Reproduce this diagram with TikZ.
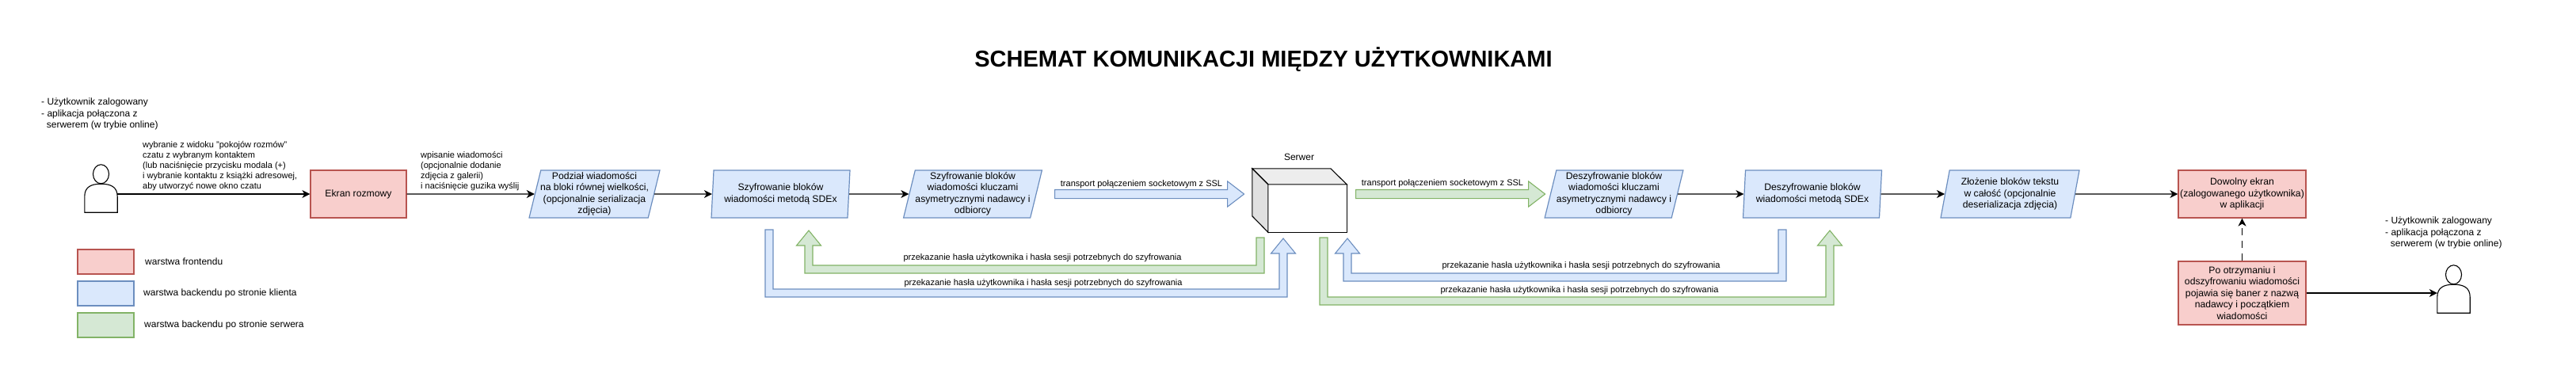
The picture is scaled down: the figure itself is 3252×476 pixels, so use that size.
\documentclass[tikz,border=0pt]{standalone}
\usepackage{fontspec}
\setmainfont{Liberation Sans}
\usetikzlibrary{arrows.meta,calc,shapes.geometric,shapes.arrows}

\definecolor{frontfill}{HTML}{F8CECC}
\definecolor{frontline}{HTML}{B85450}
\definecolor{clientfill}{HTML}{DAE8FC}
\definecolor{clientline}{HTML}{6C8EBF}
\definecolor{serverfill}{HTML}{D5E8D4}
\definecolor{serverline}{HTML}{82B366}

\tikzset{
    base/.style={font=\fontsize{12.2}{14.5}\selectfont, align=center, line width=1.2pt},
    note/.style={font=\fontsize{12}{14.5}\selectfont, align=left, inner sep=0pt},
    small/.style={font=\fontsize{11}{13}\selectfont, align=left, inner sep=0pt},
    redbox/.style={base, draw=frontline, fill=frontfill, minimum width=121pt, minimum height=60pt, inner sep=0pt},
    wideredbox/.style={redbox, minimum width=161pt},
    para/.style={base, trapezium, draw=clientline, fill=clientfill, trapezium stretches=true,
        trapezium left angle=71.6, trapezium right angle=108.4,
        minimum width=175pt, minimum height=60pt, inner xsep=-15pt, inner ysep=-10pt},
    legend/.style={line width=1.2pt, minimum width=71pt, minimum height=31pt, inner sep=0pt},
    flow/.style={draw, line width=1.1pt, -{Stealth[length=10pt,width=10pt,inset=3pt]}},
    clientarrow/.style={line width=1.1pt, draw=clientline, fill=clientfill},
    serverarrow/.style={line width=1.1pt, draw=serverline, fill=serverfill},
    straightarrow/.style={single arrow, anchor=tail, minimum width=31pt, inner xsep=0pt, inner ysep=5pt,
        single arrow head extend=10.5pt, single arrow tip angle=75},
    person/.style={minimum width=41pt, minimum height=60pt, inner sep=0pt},
}

\newcommand{\drawperson}[1]{
        \draw[line width=1.1pt] (#1.south west) -- (#1.south east)
            -- ($(#1.south east)+(0,-20)$)
            .. controls ($(#1.south east)+(0,-32)$) and ($(#1.south east)+(-8,-36)$) .. ($(#1.south)+(0,-36)$)
            .. controls ($(#1.south west)+(8,-36)$) and ($(#1.south west)+(0,-32)$) .. ($(#1.south west)+(0,-20)$)
            -- cycle;
        \draw[line width=1.1pt] ($(#1.north)+(0,12)$) ellipse (10pt and 12pt);
}
% style, tail, head, level of the turn, side of the head (1 right, -1 left)
\newcommand{\turnarrow}[5]{
        \draw[#1] let \p1=(#2), \p2=(#3), \p3=(#4), \n1={#5*5pt}, \n2={#5*15.5pt} in
            (\x1-\n1,\y1) -- (\x1+\n1,\y1) -- (\x1+\n1,\y3+5pt) -- (\x2-\n1,\y3+5pt)
            -- (\x2-\n1,\y2-19pt) -- (\x2-\n2,\y2-19pt) -- (\x2,\y2) -- (\x2+\n2,\y2-19pt)
            -- (\x2+\n1,\y2-19pt) -- (\x2+\n1,\y3-5pt) -- (\x1-\n1,\y3-5pt) -- cycle;
}

\begin{document}
\begin{tikzpicture}[x=1pt,y=-1pt]
        \useasboundingbox (0,0) rectangle (3252,476);

        \node[font=\fontsize{29}{32}\selectfont\bfseries, inner sep=0pt] (title) at (1595,75) {SCHEMAT KOMUNIKACJI MIĘDZY UŻYTKOWNIKAMI};

        \node[note, anchor=north west] (startNote) at (52,124) {- Użytkownik zalogowany\\- aplikacja połączona z\\\ \ serwerem (w trybie online)};
        \node[person] (nadawca) at (127.5,238) {};
        \drawperson{nadawca}
        \node[small, anchor=north west] (chatLabel) at (180,178) {wybranie z widoku "pokojów rozmów"\\czatu z wybranym kontaktem\\(lub naciśnięcie przycisku modala (+)\\i wybranie kontaktu z książki adresowej,\\aby utworzyć nowe okno czatu};
        \node[small, anchor=north west] (typeLabel) at (531,191) {wpisanie wiadomości\\(opcjonalnie dodanie\\zdjęcia z galerii)\\i naciśnięcie guzika wyślij};

        \node[redbox] (ekran) at (452.5,245) {Ekran rozmowy};
        \node[para, minimum width=165pt] (podzial) at (750.5,245) {Podział wiadomości\\na bloki równej wielkości,\\(opcjonalnie serializacja\\zdjęcia)};
        \node[para] (szyfrSdex) at (985.5,245) {Szyfrowanie bloków\\wiadomości metodą SDEx};
        \node[para] (szyfrAsym) at (1228,245) {Szyfrowanie bloków\\wiadomości kluczami\\asymetrycznymi nadawcy i\\odbiorcy};
        \node[para] (deszyfrAsym) at (2037.5,245) {Deszyfrowanie bloków\\wiadomości kluczami\\asymetrycznymi nadawcy i\\odbiorcy};
        \node[para] (deszyfrSdex) at (2288,245) {Deszyfrowanie bloków\\wiadomości metodą SDEx};
        \node[para] (zlozenie) at (2537.5,245) {Złożenie bloków tekstu\\w całość (opcjonalnie\\deserializacja zdjęcia)};
        \node[wideredbox] (dowolny) at (2830.5,245) {Dowolny ekran\\(zalogowanego użytkownika)\\w aplikacji};
        \node[wideredbox, minimum height=80pt] (baner) at (2830.5,370) {Po otrzymaniu i\\odszyfrowaniu wiadomości\\pojawia się baner z nazwą\\nadawcy i początkiem\\wiadomości};

        \draw[flow] (nadawca.east |- ekran.west) -- (ekran.west);
        \draw[flow] (ekran.east) -- (podzial.west);
        \draw[flow] (podzial.east) -- (szyfrSdex.west);
        \draw[flow] (szyfrSdex.east) -- (szyfrAsym.west);
        \draw[flow] (deszyfrAsym.east) -- (deszyfrSdex.west);
        \draw[flow] (deszyfrSdex.east) -- (zlozenie.west);
        \draw[flow] (zlozenie.east) -- (dowolny.west);
        \draw[flow, dash pattern=on 9pt off 7pt] (baner.north) -- (dowolny.south);

        % serwer
        \node[font=\fontsize{12}{14.5}\selectfont, inner sep=0pt] (serwerLabel) at (1640,198) {Serwer};
        \node[minimum width=99pt, minimum height=60pt, inner sep=0pt] (serwer) at (1650.5,263) {};
        \draw[line width=1.1pt, fill=white] (serwer.north west) rectangle (serwer.south east);
        \draw[line width=1.1pt, fill=black!7] (serwer.north west) -- ++(-20,-20) -- ++(99,0) -- (serwer.north east) -- cycle;
        \draw[line width=1.1pt, fill=black!12] (serwer.north west) -- ++(-20,-20) -- ++(0,60) -- (serwer.south west) -- cycle;

        \node[straightarrow, clientarrow, minimum height=239pt] (transportDo) at (1331,245) {};
        \node[straightarrow, serverarrow, minimum height=239pt] (transportOd) at (1711,245) {};
        \node[small, inner sep=0pt] (transportDoLabel) at (1441,233) {transport połączeniem socketowym z SSL};
        \node[small, inner sep=0pt] (transportOdLabel) at (1821,232) {transport połączeniem socketowym z SSL};

        \coordinate (tailA) at (971,290);
        \coordinate (headA) at (1620,301);
        \coordinate (turnA) at (1300,370);
        \coordinate (tailB) at (1591,300);
        \coordinate (headB) at (1021,291);
        \coordinate (turnB) at (1300,340);
        \coordinate (tailC) at (2250,290);
        \coordinate (headC) at (1701,301);
        \coordinate (turnC) at (2000,350);
        \coordinate (tailD) at (1671,300);
        \coordinate (headD) at (2310,291);
        \coordinate (turnD) at (2000,380);

        \turnarrow{clientarrow}{tailA}{headA}{turnA}{1}
        \turnarrow{serverarrow}{tailB}{headB}{turnB}{-1}
        \turnarrow{clientarrow}{tailC}{headC}{turnC}{-1}
        \turnarrow{serverarrow}{tailD}{headD}{turnD}{1}

        \node[small] (hasloB) at (1316,326) {przekazanie hasła użytkownika i hasła sesji potrzebnych do szyfrowania};
        \node[small] (hasloA) at (1317,358) {przekazanie hasła użytkownika i hasła sesji potrzebnych do szyfrowania};
        \node[small] (hasloC) at (1996,336) {przekazanie hasła użytkownika i hasła sesji potrzebnych do szyfrowania};
        \node[small] (hasloD) at (1994,367) {przekazanie hasła użytkownika i hasła sesji potrzebnych do szyfrowania};

        % odbiorca
        \node[note, anchor=north west] (endNote) at (3011,274) {- Użytkownik zalogowany\\- aplikacja połączona z\\\ \ serwerem (w trybie online)};
        \node[person] (odbiorca) at (3097.5,365) {};
        \drawperson{odbiorca}
        \draw[flow] (baner.east) -- (baner.east -| odbiorca.west);

        % legenda
        \node[legend, draw=frontline, fill=frontfill] (legendFront) at (133.5,330.5) {};
        \node[legend, draw=clientline, fill=clientfill] (legendClient) at (133.5,370.5) {};
        \node[legend, draw=serverline, fill=serverfill] (legendServer) at (133.5,410.5) {};
        \node[note, anchor=west] (legendFrontLabel) at (183,330) {warstwa frontendu};
        \node[note, anchor=west] (legendClientLabel) at (181,370) {warstwa backendu po stronie klienta};
        \node[note, anchor=west] (legendServerLabel) at (182,410) {warstwa backendu po stronie serwera};
\end{tikzpicture}
\end{document}
